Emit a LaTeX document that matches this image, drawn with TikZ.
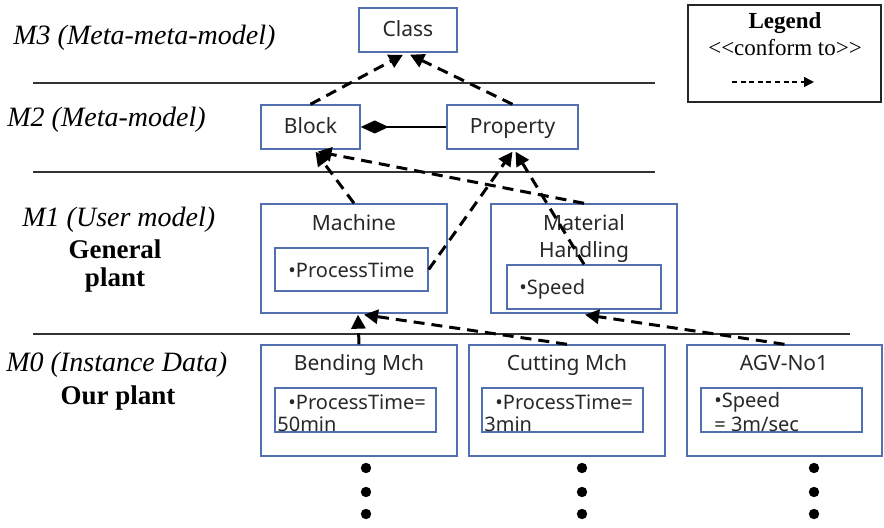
\documentclass[tikz,border=0pt]{standalone}
\usepackage{fontspec}
\setmainfont{Liberation Serif}
\newfontfamily\boxfont{Noto Sans}
\usetikzlibrary{arrows.meta,calc}
\definecolor{boxblue}{RGB}{82,112,175}
\definecolor{inkgray}{RGB}{40,40,40}
\tikzset{
  mbox/.style={draw=boxblue, line width=0.7pt, fill=white, inner sep=0pt},
  btext/.style={font=\boxfont\fontsize{10.5}{13.5}\selectfont, text=inkgray, inner sep=0pt},
  ltext/.style={btext, text height=8.5pt, text depth=1.5pt},
  atext/.style={font=\boxfont\fontsize{10}{11.5}\selectfont, text=inkgray, inner sep=0pt, anchor=west, align=left},
  level/.style={font=\itshape\fontsize{14}{17}\selectfont, inner sep=0pt, anchor=west},
  plant/.style={font=\bfseries\fontsize{13.5}{14}\selectfont, inner sep=0pt, align=center},
  sep/.style={draw=black!80, line width=1pt},
  conform/.style={dashed, dash pattern=on 5.5pt off 3.5pt, line width=1.5pt,
    -{Triangle[length=7pt,width=7pt]}},
  comp/.style={line width=0.6pt, -{Diamond[length=14pt,width=6.5pt]}},
  dot/.style={fill=black}
}
\begin{document}
\begin{tikzpicture}[x=0.5pt,y=-0.5pt]
\useasboundingbox (0,0) rectangle (884,528);

% level separators
\draw[sep] (33,83) -- (655,83);
\draw[sep] (33,172) -- (655,172);
\draw[sep] (33,334) -- (850,334);

% level captions
\node[level] (m3) at (13,38) {M3 (Meta-meta-model)};
\node[level] (m2) at (7,120) {M2 (Meta-model)};
\node[level] (m1) at (22,220) {M1 (User model)};
\node[plant] (gp) at (115,266) {General\\plant};
\node[level] (m0) at (6,365) {M0 (Instance Data)};
\node[plant] (op) at (118,398) {Our plant};

% M3 and M2
\node[mbox, minimum width=49pt, minimum height=22pt] (class) at (408,30) {};
\node[ltext] at (class.center) {Class};
\node[mbox, minimum width=49.5pt, minimum height=22pt] (block) at (310.5,127) {};
\node[ltext] at (block.center) {Block};
\node[mbox, minimum width=65.5pt, minimum height=22pt] (prop) at (512.5,127) {};
\node[ltext] at (prop.center) {Property};

% M1
\node[mbox, minimum width=93pt, minimum height=54.5pt] (mach) at (354,258.5) {};
\node[ltext] (machT) at (354,224) {Machine};
\node[mbox, minimum width=76.5pt, minimum height=21.5pt] (pt) at (351.5,269.5) {};
\node[atext] at (288,270) {\textbullet ProcessTime};
\node[mbox, minimum width=93pt, minimum height=54.5pt] (mh) at (584,258.5) {};
\node[btext, align=center] (mhT) at (584,239) {Material\\Handling};
\node[mbox, minimum width=77pt, minimum height=22pt] (spd) at (584,287) {};
\node[atext] at (519,289) {\textbullet Speed};

% M0
\node[mbox, minimum width=98pt, minimum height=55.5pt] (bend) at (359,400.5) {};
\node[ltext] at (359,364) {Bending Mch};
\node[mbox, minimum width=80.5pt, minimum height=22pt] (bendA) at (355.5,410) {};
\node[atext] at (288,402) {\textbullet ProcessTime=};
\node[atext] at (277,424) {50min};
\node[mbox, minimum width=98pt, minimum height=55.5pt] (cut) at (567,400.5) {};
\node[ltext] at (567,364) {Cutting Mch};
\node[mbox, minimum width=80.5pt, minimum height=22pt] (cutA) at (562.5,410) {};
\node[atext] at (495,402) {\textbullet ProcessTime=};
\node[atext] at (484,424) {3min};
\node[mbox, minimum width=97.5pt, minimum height=55.5pt] (agv) at (784.5,400.5) {};
\node[ltext] at (784,364) {AGV-No1};
\node[mbox, minimum width=80.5pt, minimum height=22pt] (agvA) at (781.5,410) {};
\node[atext] at (714,402) {\textbullet Speed};
\node[atext] at (714,424) {= 3m/sec};

% continuation dots
\foreach \x in {366,582,814}
  \foreach \y in {468,492,514}
    \fill[dot] (\x,\y) circle (2.6pt);

% composition
\draw[comp] (prop.west) -- (block.east);

% conform-to relations
\draw[conform] (block.north) -- ($(class.south)+(-5,2)$);
\draw[conform] (prop.north) -- ($(class.south)+(2,2)$);
\draw[conform] (mach.north) -- ($(block.south)+(5,2)$);
\draw[conform] (mh.north) -- ($(block.south)+(7,2)$);
\draw[conform] (pt.east) -- ($(prop.south)+(0,2)$);
\draw[conform] (spd.north) -- ($(prop.south)+(3,2)$);
\draw[conform] (bend.north) -- ($(mach.south)+(4,1)$);
\draw[conform] (cut.north) -- ($(mach.south)+(10,1)$);
\draw[conform] (agv.north) -- ($(mh.south)+(1,1)$);

% legend
\node[draw=black!85, line width=1pt, minimum width=96.5pt, minimum height=48.5pt, inner sep=0pt] (legend) at (784.5,53.5) {};
\node[font=\bfseries\fontsize{11.5}{13}\selectfont, inner sep=0pt] (legT) at (785,23) {Legend};
\node[font=\fontsize{11.5}{13}\selectfont, inner sep=0pt] (legC) at (785,48) {{<}{<}conform to{>}{>}};
\coordinate (legA) at (732,82);
\coordinate (legB) at (814,82);
\draw[dashed, dash pattern=on 2.5pt off 1.8pt, line width=0.8pt, -{Triangle[length=5pt,width=5pt]}] (legA) -- (legB);
\end{tikzpicture}
\end{document}
